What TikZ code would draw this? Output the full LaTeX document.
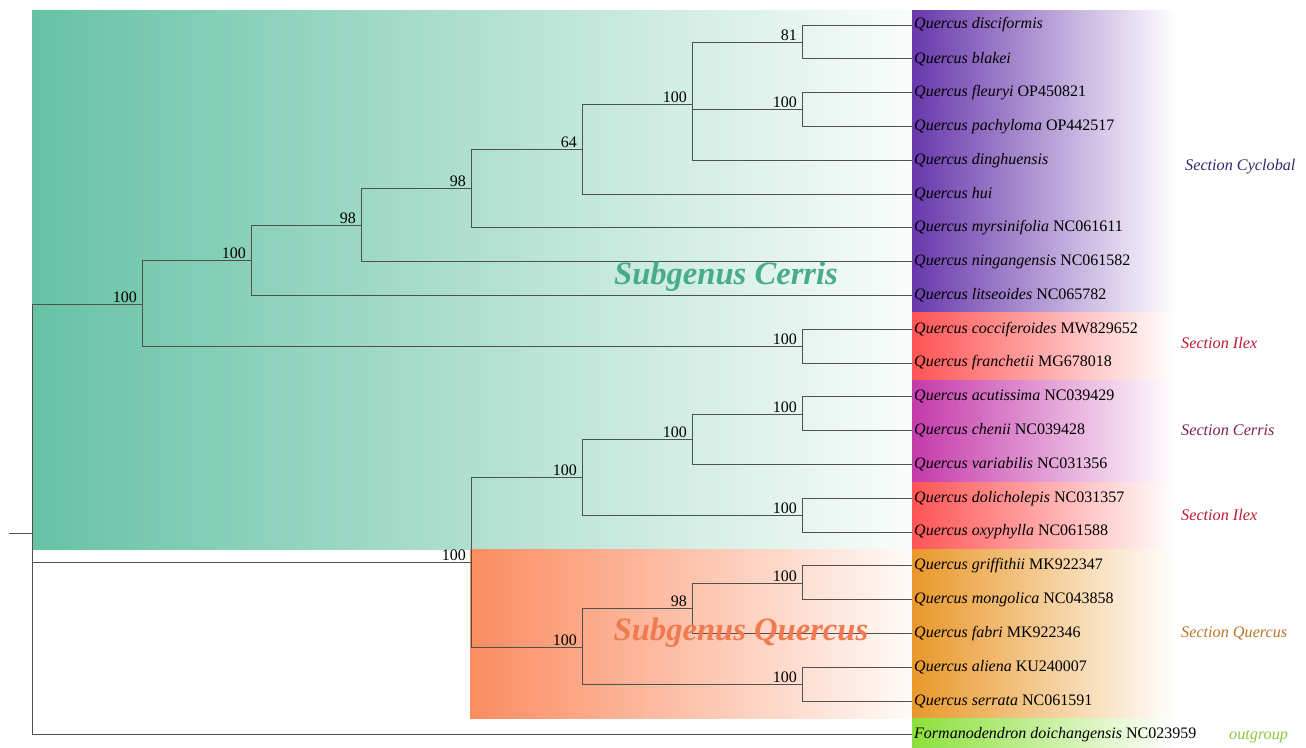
\documentclass[tikz,border=0pt]{standalone}
\usepackage{fontspec}
\setmainfont{Liberation Serif}
\usetikzlibrary{calc}
\definecolor{cerrisG}{RGB}{102,194,165}
\definecolor{quercusO}{RGB}{251,140,96}
\definecolor{cyclo}{RGB}{104,56,172}
\definecolor{ilexR}{RGB}{255,84,84}
\definecolor{cerrM}{RGB}{196,58,170}
\definecolor{querS}{RGB}{233,152,42}
\definecolor{outG}{RGB}{140,224,60}
\definecolor{tCyclo}{RGB}{46,40,110}
\definecolor{tIlex}{RGB}{192,25,50}
\definecolor{tCerris}{RGB}{125,30,80}
\definecolor{tQuer}{RGB}{185,118,42}
\definecolor{tOut}{RGB}{141,198,63}
\definecolor{subC}{RGB}{70,172,138}
\definecolor{subQ}{RGB}{240,122,80}
\definecolor{branch}{RGB}{80,80,80}
\begin{document}
\begin{tikzpicture}[x=1pt,y=-1pt,
  br/.style={draw=branch,line width=1pt},
  leaf/.style={anchor=west,inner sep=2pt,font=\fontsize{16}{18}\selectfont},
  bs/.style={anchor=south east,inner sep=0pt,font=\fontsize{16}{18}\selectfont},
  sect/.style={anchor=west,inner sep=0pt,font=\fontsize{16.2}{18}\selectfont\itshape},
  subg/.style={inner sep=0pt,font=\fontsize{32.6}{36}\selectfont\bfseries\itshape}]
\useasboundingbox (0,0) rectangle (1306,747);
% backgrounds
\shade[left color=cerrisG, middle color=cerrisG!45!white, right color=white!96!cerrisG] (32,10) rectangle (912,549);
\shade[left color=quercusO, middle color=quercusO!35!white, right color=white!96!quercusO] (470,549) rectangle (912,718);
\shade[left color=cyclo, middle color=cyclo!25!white, right color=white] (912,10) rectangle (1175,312);
\shade[left color=ilexR, middle color=ilexR!25!white, right color=white] (912,312) rectangle (1175,380);
\shade[left color=cerrM, middle color=cerrM!25!white, right color=white] (912,380) rectangle (1175,482);
\shade[left color=ilexR, middle color=ilexR!25!white, right color=white] (912,482) rectangle (1175,549);
\shade[left color=querS, middle color=querS!25!white, right color=white] (912,549) rectangle (1175,718);
\shade[left color=outG, middle color=outG!25!white, right color=white] (912,718) rectangle (1175,747);
% leaves
\foreach \i/\t in {1/{\textit{Quercus disciformis}},2/{\textit{Quercus blakei}},3/{\textit{Quercus fleuryi} OP450821},4/{\textit{Quercus pachyloma} OP442517},5/{\textit{Quercus dinghuensis}},6/{\textit{Quercus hui}},7/{\textit{Quercus myrsinifolia} NC061611},8/{\textit{Quercus ningangensis} NC061582},9/{\textit{Quercus litseoides} NC065782},10/{\textit{Quercus cocciferoides} MW829652},11/{\textit{Quercus franchetii} MG678018},12/{\textit{Quercus acutissima} NC039429},13/{\textit{Quercus chenii} NC039428},14/{\textit{Quercus variabilis} NC031356},15/{\textit{Quercus dolicholepis} NC031357},16/{\textit{Quercus oxyphylla} NC061588},17/{\textit{Quercus griffithii} MK922347},18/{\textit{Quercus mongolica} NC043858},19/{\textit{Quercus fabri} MK922346},20/{\textit{Quercus aliena} KU240007},21/{\textit{Quercus serrata} NC061591},22/{\textit{Formanodendron doichangensis} NC023959}}
  \node[leaf] (l\i) at (912,{25+(\i-1)*33.8}) {\t};
% internal nodes
\coordinate (nA) at (802,42);
\coordinate (nB) at (802,109);
\coordinate (nC) at (692,104);
\coordinate (nD) at (582,149);
\coordinate (nE) at (471,188);
\coordinate (nF) at (361,225);
\coordinate (nG) at (251,260);
\coordinate (nH) at (802,346);
\coordinate (nI) at (142,304);
\coordinate (nJ) at (802,414);
\coordinate (nK) at (692,439);
\coordinate (nL) at (802,515);
\coordinate (nM) at (582,477);
\coordinate (nN) at (802,583);
\coordinate (nO) at (692,608);
\coordinate (nP) at (802,684);
\coordinate (nQ) at (582,647);
\coordinate (nR) at (471,562);
\coordinate (root) at (32,533);
\coordinate (stub) at (9,533);
% branches
\draw[br] (stub) -- (root);
\draw[br] (root) |- (nI);
\draw[br] (root) |- (nR);
\draw[br] (root) |- (l22.west);
\draw[br] (nI) |- (nG);
\draw[br] (nI) |- (nH);
\draw[br] (nG) |- (nF);
\draw[br] (nG) |- (l9.west);
\draw[br] (nF) |- (nE);
\draw[br] (nF) |- (l8.west);
\draw[br] (nE) |- (nD);
\draw[br] (nE) |- (l7.west);
\draw[br] (nD) |- (nC);
\draw[br] (nD) |- (l6.west);
\draw[br] (nC) |- (nA);
\draw[br] (nC) |- (nB);
\draw[br] (nC) |- (l5.west);
\draw[br] (nA) |- (l1.west);
\draw[br] (nA) |- (l2.west);
\draw[br] (nB) |- (l3.west);
\draw[br] (nB) |- (l4.west);
\draw[br] (nH) |- (l10.west);
\draw[br] (nH) |- (l11.west);
\draw[br] (nR) |- (nM);
\draw[br] (nR) |- (nQ);
\draw[br] (nM) |- (nK);
\draw[br] (nM) |- (nL);
\draw[br] (nK) |- (nJ);
\draw[br] (nK) |- (l14.west);
\draw[br] (nJ) |- (l12.west);
\draw[br] (nJ) |- (l13.west);
\draw[br] (nL) |- (l15.west);
\draw[br] (nL) |- (l16.west);
\draw[br] (nQ) |- (nO);
\draw[br] (nQ) |- (nP);
\draw[br] (nO) |- (nN);
\draw[br] (nO) |- (l19.west);
\draw[br] (nN) |- (l17.west);
\draw[br] (nN) |- (l18.west);
\draw[br] (nP) |- (l20.west);
\draw[br] (nP) |- (l21.west);
% bootstrap values
\foreach \n/\v in {nA/81,nB/100,nC/100,nD/64,nE/98,nF/98,nG/100,nH/100,nI/100,nJ/100,nK/100,nL/100,nM/100,nN/100,nO/98,nP/100,nQ/100,nR/100}
  \node[bs] (b\n) at ($(\n)+(-5,-1.5)$) {\v};
% subgenus labels
\node[subg,text=subC] (sgC) at (726,277) {Subgenus Cerris};
\node[subg,text=subQ] (sgQ) at (741,633) {Subgenus Quercus};
% section labels
\node[sect,text=tCyclo] (sC1) at (1185,167) {Section Cyclobal};
\node[sect,text=tIlex] (sI1) at (1181,343) {Section Ilex};
\node[sect,text=tCerris] (sC2) at (1181,430) {Section Cerris};
\node[sect,text=tIlex] (sI2) at (1181,515) {Section Ilex};
\node[sect,text=tQuer] (sQ) at (1181,633) {Section Quercus};
\node[sect,text=tOut] (sO) at (1229,737) {outgroup};
\end{tikzpicture}
\end{document}
